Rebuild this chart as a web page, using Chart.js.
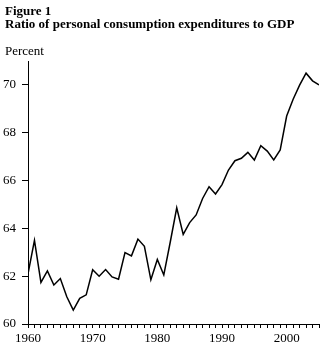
<!DOCTYPE html>
<html>
<head>
<meta charset="utf-8">
<script src="https://cdn.jsdelivr.net/npm/chart.js@4"></script>
<style>
  html, body { margin: 0; padding: 0; background: #fff; }
  #wrap { width: 325px; height: 356px; }
</style>
</head>
<body>
<div id="wrap"><canvas id="pceChart" width="325" height="356"></canvas></div>
<script>
const years = [
  1960, 1961, 1962, 1963, 1964, 1965, 1966, 1967, 1968, 1969,
  1970, 1971, 1972, 1973, 1974, 1975, 1976, 1977, 1978, 1979,
  1980, 1981, 1982, 1983, 1984, 1985, 1986, 1987, 1988, 1989,
  1990, 1991, 1992, 1993, 1994, 1995, 1996, 1997, 1998, 1999,
  2000, 2001, 2002, 2003, 2004, 2005
];
const pceRatio = [
  62.1, 63.5, 61.74, 62.22, 61.63, 61.9, 61.14, 60.58, 61.07, 61.22,
  62.27, 62.0, 62.28, 61.97, 61.87, 62.99, 62.85, 63.55, 63.25, 61.85,
  62.7, 62.05, 63.43, 64.86, 63.75, 64.24, 64.56, 65.25, 65.74, 65.44,
  65.83, 66.44, 66.83, 66.93, 67.18, 66.86, 67.46, 67.23, 66.86, 67.28,
  68.7, 69.4, 69.99, 70.49, 70.17, 70.0
];
const yTickValues = [60, 62, 64, 66, 68, 70];
const xLabelYears = [1960, 1970, 1980, 1990, 2000];

const titleLines = ['Figure 1', 'Ratio of personal consumption expenditures to GDP'];
const unitLabel = 'Percent';

Chart.defaults.color = '#000';
Chart.defaults.font.family = '"Liberation Serif", "DejaVu Serif", serif';
Chart.defaults.font.size = 13;

// nudge title + subtitle a few px in from the left edge
const indentHeader = {
  id: 'indentHeader',
  afterLayout(chart) {
    chart.boxes.forEach(box => {
      if (box.options && box.options.align === 'start' && box.options.text !== undefined) {
        box.left = 5;
      }
    });
  }
};

const ctx = document.getElementById('pceChart').getContext('2d');

new Chart(ctx, {
  type: 'line',
  data: {
    datasets: [{
      data: years.map((yr, i) => ({ x: yr, y: pceRatio[i] })),
      borderColor: '#000',
      borderWidth: 1.5,
      pointRadius: 0,
      tension: 0,
      fill: false
    }]
  },
  plugins: [indentHeader],
  options: {
    responsive: false,
    animation: false,
    layout: { padding: { left: 0, right: 6, top: 5, bottom: 0 } },
    plugins: {
      legend: { display: false },
      tooltip: { enabled: false },
      title: {
        display: true,
        text: titleLines,
        align: 'start',
        font: { size: 13, weight: 'bold', lineHeight: 1.0 },
        padding: { top: 0, bottom: 4 }
      },
      subtitle: {
        display: true,
        text: unitLabel,
        align: 'start',
        font: { size: 13, weight: 'normal', lineHeight: 1.0 },
        padding: { top: 10, bottom: 3 }
      }
    },
    scales: {
      x: {
        type: 'linear',
        min: 1960,
        max: 2005,
        afterFit: (scale) => { scale.height = 32; },
        ticks: {
          stepSize: 1,
          autoSkip: false,
          maxRotation: 0,
          padding: 3,
          callback: (value) => xLabelYears.includes(value) ? String(value) : ''
        },
        grid: { drawOnChartArea: false, drawTicks: true, tickLength: 4, color: '#000' },
        border: { color: '#000', width: 1 }
      },
      y: {
        min: 60,
        max: 71,
        afterFit: (scale) => { scale.width = 28; },
        afterBuildTicks: (scale) => {
          scale.ticks = yTickValues.map(v => ({ value: v }));
        },
        ticks: { padding: 6 },
        grid: { drawOnChartArea: false, drawTicks: true, tickLength: 6, color: '#000' },
        border: { color: '#000', width: 1 }
      }
    }
  }
});
</script>
</body>
</html>
